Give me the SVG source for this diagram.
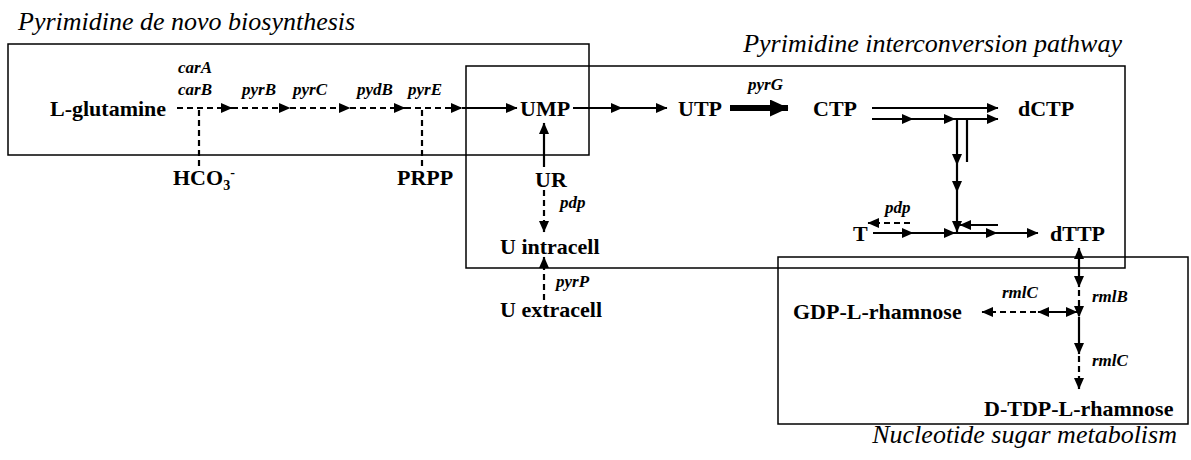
<svg xmlns="http://www.w3.org/2000/svg" width="1191" height="460" viewBox="0 0 1191 460">
  <style>
    .box { fill: none; stroke: #000; stroke-width: 1.5; }
    text { font-family: "Liberation Serif", "Times New Roman", serif; fill: #000; }
    .title { font-style: italic; font-size: 26px; }
    .met { font-weight: bold; font-size: 22px; }
    .gene { font-weight: bold; font-style: italic; font-size: 17px; }
    .s { fill: none; stroke: #000; stroke-width: 2.2; }
    .d { stroke-dasharray: 6 4; }
    .thick { fill: none; stroke: #000; stroke-width: 6; }
  </style>
  <defs>
    <marker id="ah" markerUnits="userSpaceOnUse" markerWidth="12" markerHeight="11" refX="11" refY="5.5" orient="auto-start-reverse" viewBox="0 0 12 11">
      <path d="M0,0.5 L11.5,5.5 L0,10.5 z" fill="#000" stroke="none"/>
    </marker>
    <marker id="big" markerUnits="userSpaceOnUse" markerWidth="19" markerHeight="17" refX="18" refY="8.5" orient="auto" viewBox="0 0 19 17">
      <path d="M0,0 L18.5,8.5 L0,17 z" fill="#000" stroke="none"/>
    </marker>
  </defs>

  <!-- pathway regions -->
  <g id="regions">
    <rect class="box" x="8" y="44" width="581" height="111"/>
    <rect class="box" x="466" y="66" width="659" height="202"/>
    <rect class="box" x="778" y="257" width="410" height="167"/>
    <text class="title" x="18" y="30">Pyrimidine de novo biosynthesis</text>
    <text class="title" x="1122" y="52" text-anchor="end">Pyrimidine interconversion pathway</text>
    <text class="title" x="1177" y="443" text-anchor="end">Nucleotide sugar metabolism</text>
  </g>

  <!-- reactions -->
  <g id="connectors">
    <!-- de novo chain -->
    <line class="s d" x1="177" y1="108" x2="232" y2="108" marker-end="url(#ah)"/>
    <line class="s d" x1="232" y1="108" x2="290" y2="108" marker-end="url(#ah)"/>
    <line class="s d" x1="290" y1="108" x2="350" y2="108" marker-end="url(#ah)"/>
    <line class="s d" x1="350" y1="108" x2="405" y2="108" marker-end="url(#ah)"/>
    <line class="s d" x1="405" y1="108" x2="462" y2="108" marker-end="url(#ah)"/>
    <line class="s d" x1="199" y1="110" x2="199" y2="166"/>
    <line class="s d" x1="422" y1="110" x2="422" y2="166"/>
    <line class="s" x1="462" y1="108" x2="517" y2="108" marker-end="url(#ah)"/>
    <!-- UMP to UTP to CTP -->
    <line class="s" x1="573" y1="108" x2="622" y2="108" marker-end="url(#ah)"/>
    <line class="s" x1="622" y1="108" x2="667" y2="108" marker-end="url(#ah)"/>
    <line class="thick" x1="730" y1="108" x2="788" y2="108" marker-end="url(#big)"/>
    <!-- CTP to dCTP -->
    <line class="s" x1="872" y1="108" x2="998" y2="108" marker-end="url(#ah)"/>
    <line class="s" x1="872" y1="119" x2="913" y2="119" marker-end="url(#ah)"/>
    <line class="s" x1="913" y1="119" x2="955" y2="119" marker-end="url(#ah)"/>
    <line class="s" x1="955" y1="119" x2="998" y2="119" marker-end="url(#ah)"/>
    <!-- down to dTTP -->
    <line class="s" x1="957" y1="119" x2="957" y2="165" marker-end="url(#ah)"/>
    <line class="s" x1="957" y1="165" x2="957" y2="192" marker-end="url(#ah)"/>
    <line class="s" x1="957" y1="192" x2="957" y2="232" marker-end="url(#ah)"/>
    <line class="s" x1="967" y1="120" x2="967" y2="162"/>
    <line class="s" x1="998" y1="225" x2="960" y2="225" marker-end="url(#ah)"/>
    <!-- T to dTTP -->
    <line class="s" x1="873" y1="233" x2="913" y2="233" marker-end="url(#ah)"/>
    <line class="s" x1="913" y1="233" x2="955" y2="233" marker-end="url(#ah)"/>
    <line class="s" x1="955" y1="233" x2="997" y2="233" marker-end="url(#ah)"/>
    <line class="s" x1="997" y1="233" x2="1038" y2="233" marker-end="url(#ah)"/>
    <line class="s d" x1="910" y1="223" x2="868" y2="223" marker-end="url(#ah)"/>
    <!-- salvage -->
    <line class="s" x1="544" y1="167" x2="544" y2="123" marker-end="url(#ah)"/>
    <line class="s d" x1="544" y1="190" x2="544" y2="232" marker-end="url(#ah)"/>
    <line class="s d" x1="544" y1="300" x2="544" y2="257" marker-end="url(#ah)"/>
    <!-- dTTP to rhamnose -->
    <line class="s" x1="1079" y1="287" x2="1079" y2="248" marker-start="url(#ah)" marker-end="url(#ah)"/>
    <line class="s d" x1="1079" y1="290" x2="1079" y2="317" marker-end="url(#ah)"/>
    <line class="s" x1="1079" y1="317" x2="1079" y2="354" marker-end="url(#ah)"/>
    <line class="s d" x1="1079" y1="356" x2="1079" y2="389" marker-end="url(#ah)"/>
    <line class="s" x1="1038" y1="312" x2="1077" y2="312" marker-start="url(#ah)" marker-end="url(#ah)"/>
    <line class="s d" x1="1036" y1="312" x2="982" y2="312" marker-end="url(#ah)"/>
  </g>

  <!-- metabolites -->
  <g id="n-glutamine"><text class="met" x="50" y="116">L-glutamine</text></g>
  <g id="n-hco3"><text class="met" x="173" y="185">HCO<tspan font-size="14" dy="5">3</tspan><tspan font-size="14" dy="-13">-</tspan></text></g>
  <g id="n-prpp"><text class="met" x="397" y="185">PRPP</text></g>
  <g id="n-ump"><text class="met" x="520" y="116">UMP</text></g>
  <g id="n-utp"><text class="met" x="678" y="116">UTP</text></g>
  <g id="n-ctp"><text class="met" x="813" y="116">CTP</text></g>
  <g id="n-dctp"><text class="met" x="1018" y="116">dCTP</text></g>
  <g id="n-ur"><text class="met" x="535" y="187">UR</text></g>
  <g id="n-uintra"><text class="met" x="500" y="254">U intracell</text></g>
  <g id="n-uextra"><text class="met" x="500" y="317">U extracell</text></g>
  <g id="n-t"><text class="met" x="853" y="241">T</text></g>
  <g id="n-dttp"><text class="met" x="1050" y="241">dTTP</text></g>
  <g id="n-gdprha"><text class="met" x="793" y="319">GDP-L-rhamnose</text></g>
  <g id="n-tdprha"><text class="met" x="984" y="416">D-TDP-L-rhamnose</text></g>

  <!-- enzymes -->
  <g id="genes">
    <text class="gene" x="178" y="73">carA</text>
    <text class="gene" x="178" y="95">carB</text>
    <text class="gene" x="242" y="95">pyrB</text>
    <text class="gene" x="293" y="95">pyrC</text>
    <text class="gene" x="357" y="95">pydB</text>
    <text class="gene" x="408" y="95">pyrE</text>
    <text class="gene" x="748" y="90">pyrG</text>
    <text class="gene" x="560" y="208">pdp</text>
    <text class="gene" x="556" y="287">pyrP</text>
    <text class="gene" x="885" y="213">pdp</text>
    <text class="gene" x="1002" y="298">rmlC</text>
    <text class="gene" x="1092" y="302">rmlB</text>
    <text class="gene" x="1092" y="366">rmlC</text>
  </g>
</svg>
